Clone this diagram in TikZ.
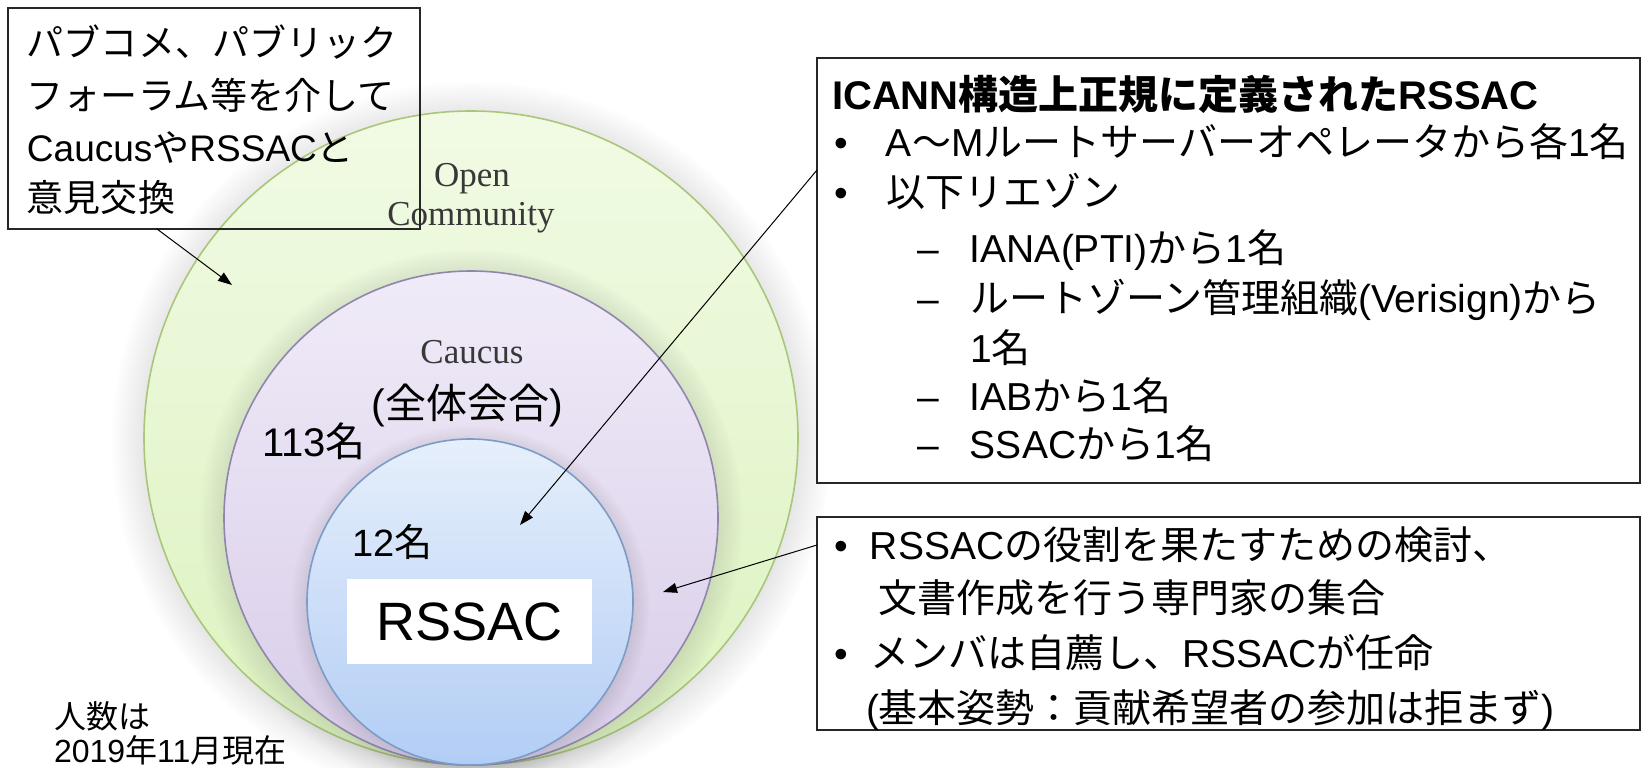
\documentclass[tikz,border=0pt]{standalone}
\usepackage{fontspec}
\setmainfont{Liberation Sans}
\newfontfamily\jpfont{Noto Sans CJK JP}
\newfontfamily\serifont{Liberation Serif}
\usetikzlibrary{arrows.meta,shadows}
\XeTeXinterchartokenstate=1
\newXeTeXintercharclass\JPclass
\newcount\jpc
\def\setjprange#1#2{\jpc=#1 \loop \XeTeXcharclass\jpc=\JPclass \advance\jpc by 1 \ifnum\jpc<#2 \repeat}
\setjprange{"3000}{"3100}
\setjprange{"4E00}{"A000}
\setjprange{"FF00}{"FFF0}
\XeTeXinterchartoks 0 \JPclass = {\jpfont}
\XeTeXinterchartoks 4095 \JPclass = {\jpfont}
\XeTeXinterchartoks \JPclass 0 = {\rmfamily}
\XeTeXinterchartoks \JPclass 4095 = {\rmfamily}
\definecolor{gA}{HTML}{F1FBE4}
\definecolor{gB}{HTML}{DCF2BF}
\definecolor{gedge}{HTML}{A9C67A}
\definecolor{pA}{HTML}{F0EBF8}
\definecolor{pB}{HTML}{D8CCE8}
\definecolor{pedge}{HTML}{8E87AC}
\definecolor{bA}{HTML}{E6EFFB}
\definecolor{bB}{HTML}{B2CDF5}
\definecolor{bedge}{HTML}{7B9CC6}
\begin{document}
\begin{tikzpicture}[x=1pt,y=-1pt,
  every node/.style={inner sep=0pt, outer sep=0pt, anchor=base west},
  zone/.style={circle, anchor=center, draw=#1edge, line width=1.6pt, top color=#1A, bottom color=#1B,
     circular drop shadow={shadow xshift=0pt, shadow yshift=-2.5pt, opacity=0.22, fill=black!70}},
  tbox/.style={draw=black!85, line width=1.4pt, anchor=north west},
  fTL/.style={font=\fontsize{37}{44}\selectfont},
  fR/.style={font=\fontsize{39}{46}\selectfont},
  fSer/.style={font=\serifont\fontsize{35}{40}\selectfont, text=black!78, anchor=base},
  fNum/.style={font=\fontsize{40}{46}\selectfont},
  fNote/.style={font=\fontsize{32}{36}\selectfont},
  conn/.style={draw=black, line width=1pt, -{Triangle[length=14pt,width=10pt]}},
]
\useasboundingbox (0,0) rectangle (1646,768);

% nested zones
\node[zone=g, minimum size=654pt] (open) at (471,438) {};
\node[zone=p, minimum size=494pt] (caucus) at (471,518) {};
\node[zone=b, minimum size=326pt] (rssac) at (470,602) {};

% zone labels
\node[fSer] (opentxt) at (472,186) {Open};
\node[fSer] (commtxt) at (471,225) {Community};
\node[fSer] (caucustxt) at (472,363) {Caucus};
\node[font=\fontsize{41}{46}\selectfont, anchor=center] (zentai) at (467,405) {(全体会合)};
\node[fNum] (n113) at (262,456) {113名};
\node[fNum, font=\fontsize{38}{44}\selectfont] (n12) at (352,556) {12名};
\node[fill=white, anchor=center, minimum width=245pt, minimum height=85pt,
      font=\fontsize{54}{58}\selectfont] (rsbox) at (469.5,621.5) {RSSAC};
\node[fNote] (note1) at (54,728) {人数は};
\node[fNote] (note2) at (54,762) {2019年11月現在};

% top-left box
\node[tbox, minimum width=412pt, minimum height=221pt] (tl) at (8,8) {};
\node[fTL] (tl1) at (27,57) {パブコメ、パブリック};
\node[fTL] (tl2) at (27,109) {フォーラム等を介して};
\node[fTL] (tl3) at (27,161) {CaucusやRSSACと};
\node[fTL] (tl4) at (27,211) {意見交換};

% right box
\node[tbox, fill=white, minimum width=823pt, minimum height=425pt] (rbox) at (817,58) {};
\node[fR, font=\bfseries\fontsize{40}{46}\selectfont] (r1) at (832,109) {ICANN構造上正規に定義されたRSSAC};
\node[fR] (r2) at (834,156) {\makebox[52pt][l]{•}A〜Mルートサーバーオペレータから各1名};
\node[fR] (r3) at (834,206) {\makebox[52pt][l]{•}以下リエゾン};
\node[fR] (r4) at (917,262) {\makebox[53pt][l]{–}IANA(PTI)から1名};
\node[fR] (r5) at (917,312) {\makebox[53pt][l]{–}ルートゾーン管理組織(Verisign)から};
\node[fR] (r6) at (970,362) {1名};
\node[fR] (r7) at (917,410) {\makebox[53pt][l]{–}IABから1名};
\node[fR] (r8) at (917,458) {\makebox[53pt][l]{–}SSACから1名};

% lower right box
\node[tbox, fill=white, minimum width=823pt, minimum height=213pt] (lbox) at (817,517) {};
\node[fR] (l1) at (834,559) {\makebox[36pt][l]{•}RSSACの役割を果たすための検討、};
\node[fR] (l2) at (878,612) {文書作成を行う専門家の集合};
\node[fR] (l3) at (834,667) {\makebox[36pt][l]{•}メンバは自薦し、RSSACが任命};
\node[fR] (l4) at (866,722) {(基本姿勢：貢献希望者の参加は拒まず)};

% connectors
\coordinate (a1s) at (0,170);
\coordinate (a1e) at (520,525);
\coordinate (a2s) at (0,545);
\coordinate (a2e) at (663,592);
\coordinate (a3s) at (157,0);
\coordinate (a3e) at (232,285);
\draw[conn] (rbox.west |- a1s) -- (a1e);
\draw[conn] (lbox.west |- a2s) -- (a2e);
\draw[conn] (a3s |- tl.south) -- (a3e);
\end{tikzpicture}
\end{document}
